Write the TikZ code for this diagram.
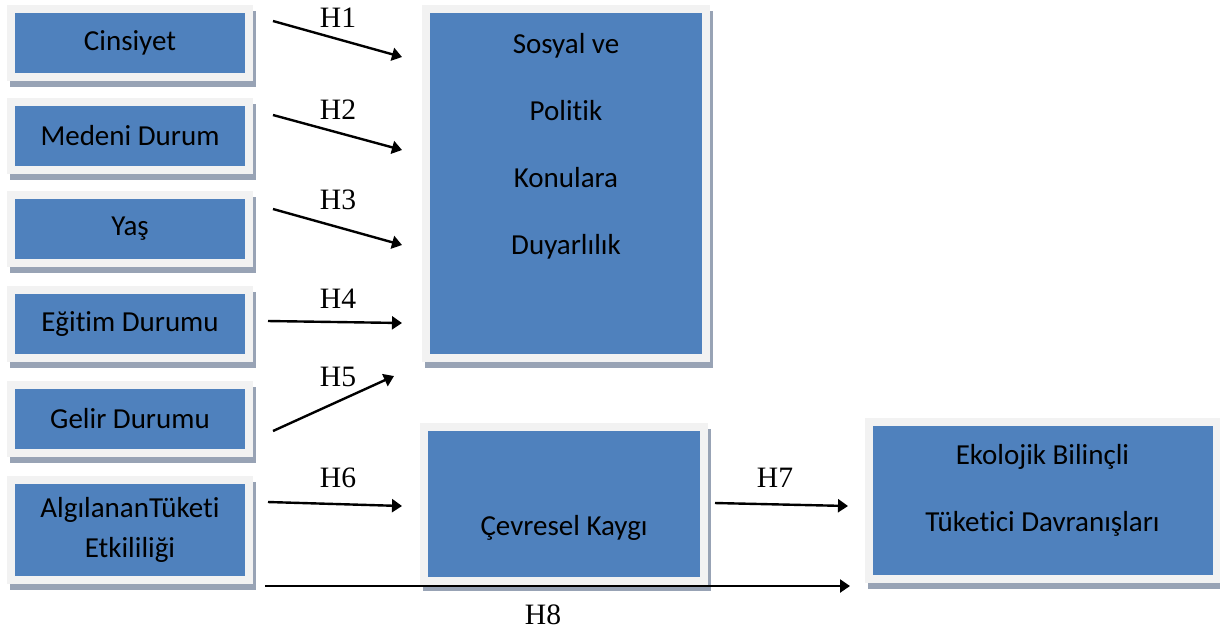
\documentclass[tikz,border=0pt]{standalone}
\usepackage{fontspec}
\setmainfont{Liberation Serif}
\newfontfamily\boxfont[Ligatures=NoCommon]{Carlito}
\usetikzlibrary{arrows.meta,backgrounds}
\definecolor{boxblue}{HTML}{4F81BD}
\definecolor{framegray}{HTML}{F2F2F2}
\definecolor{shadegray}{HTML}{98A3B5}
\begin{document}
\begin{tikzpicture}[x=0.5pt,y=-0.5pt,
	varbox/.style={fill=boxblue,draw=framegray,line width=4pt,inner sep=0pt},
	smallbox/.style={varbox,minimum width=119pt,minimum height=34pt,
		font=\boxfont\fontsize{14.5}{20}\selectfont,align=center},
	boxtext/.style={font=\boxfont\fontsize{14.5}{33.5}\selectfont,align=center},
	hyp/.style={font=\fontsize{14.8}{17}\selectfont,inner sep=0pt},
	link/.style={line width=1.2pt,-{Triangle[length=5pt,width=6.5pt]}}]
	\useasboundingbox (0,0) rectangle (1220,629);

	\node[smallbox] (cins) at (130,43) {Cinsiyet};
	\node[smallbox] (medeni) at (130,136) {Medeni Durum};
	\node[smallbox] (yas) at (130,229) {Yaş};
	\node[smallbox] (egitim) at (130,324) {Eğitim Durumu};
	\node[smallbox] (gelir) at (130,419) {Gelir Durumu};
	\node[smallbox,minimum height=50pt] (algi) at (130,530) {AlgılananTüketi\\Etkililiği};

	\node[varbox,minimum width=140pt,minimum height=174.5pt] (sosyal) at (566,183.5) {};
	\node[boxtext] (sosyaltxt) at (566,146) {Sosyal ve\\Politik\\Konulara\\Duyarlılık};
	\node[varbox,minimum width=140pt,minimum height=77pt] (cevre) at (564,504) {};
	\node[boxtext] (cevretxt) at (564,528) {Çevresel Kaygı};
	\node[varbox,minimum width=174pt,minimum height=78.5pt] (ekol) at (1042.5,500.5) {};
	\node[boxtext] (ekoltxt) at (1042.5,490) {Ekolojik Bilinçli\\Tüketici Davranışları};

	\begin{scope}[on background layer]
		\foreach \b in {cins,medeni,yas,egitim,gelir,algi,sosyal,cevre,ekol}
			\fill[shadegray] ([shift={(3,6)}]\b.south west) rectangle ([shift={(3,6)}]\b.north east);
	\end{scope}

	\foreach \i/\sx/\sy/\ex/\ey/\lx/\ly in {1/273/21/402/57/338/18,
		2/273/115/402/150/338/110, 3/273/209/402/245/338/200,
		4/268/321/402/323/338/299, 5/273/431/394/376/338/377,
		6/268/502/402/506/338/478, 7/715/503/848/506/775/478,
		8/265/586/850/586/543/615}{
		\coordinate (s\i) at (\sx,\sy);
		\coordinate (e\i) at (\ex,\ey);
		\draw[link] (s\i) -- (e\i);
		\node[hyp] (h\i) at (\lx,\ly) {H\i};
	}
\end{tikzpicture}
\end{document}
